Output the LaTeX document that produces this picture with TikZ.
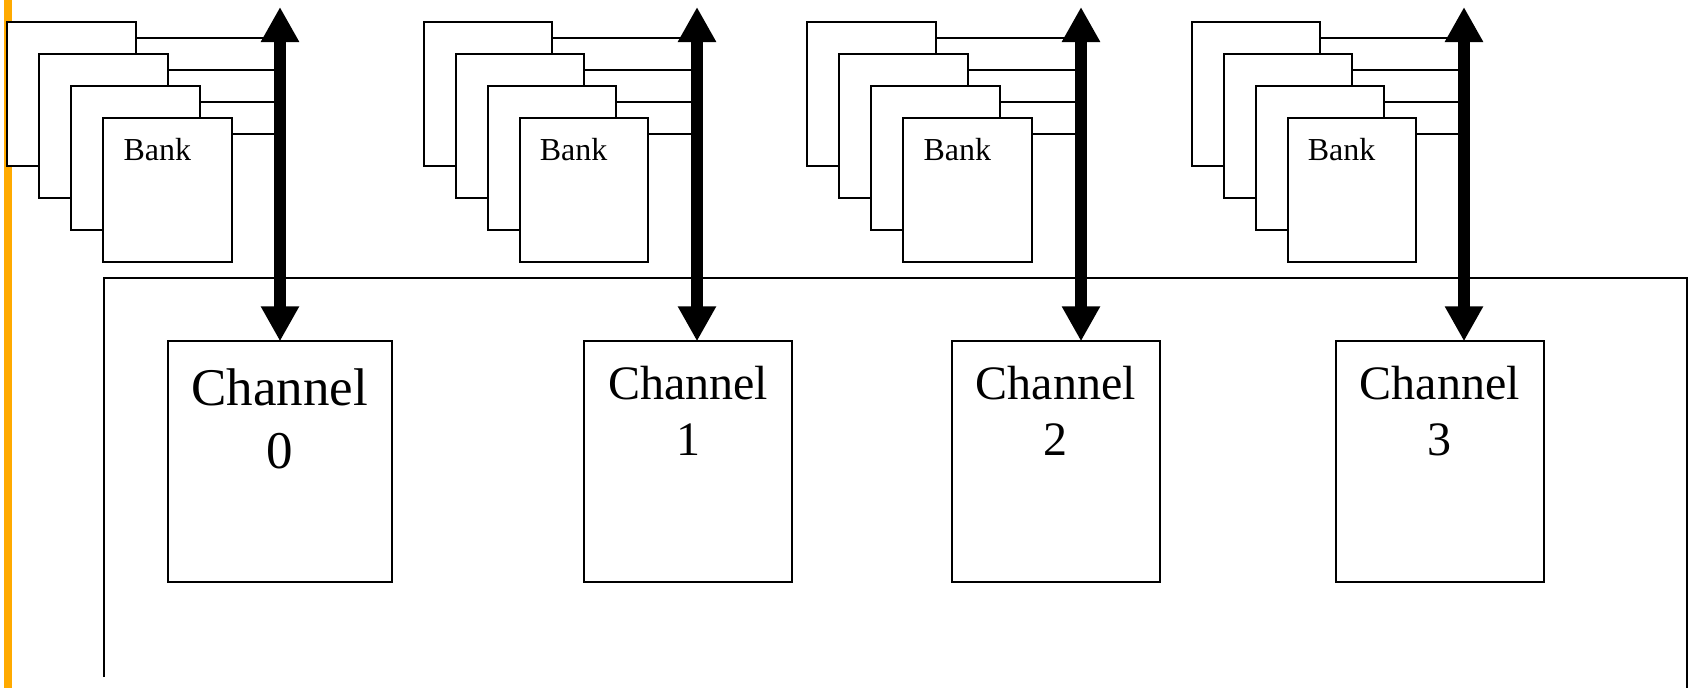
\documentclass[tikz,border=0pt]{standalone}
\usepackage{fontspec}
\setmainfont{Liberation Serif}
\usetikzlibrary{arrows.meta}
\definecolor{barorange}{RGB}{255,170,0}
\begin{document}
\begin{tikzpicture}[x=1pt,y=-1pt,
  bankbox/.style={draw, line width=1.8pt, fill=white, minimum width=128.7pt, minimum height=144pt, inner sep=0pt, outer sep=0pt, anchor=north west},
  chbox/.style={draw, line width=1.8pt, fill=white, inner sep=0pt, outer sep=0pt, anchor=north west, minimum height=240.7pt},
  wire/.style={line width=1.8pt},
  bus/.style={line width=12pt, {Triangle[length=35pt,width=36pt]}-{Triangle[length=35pt,width=36pt]}},
  banklabel/.style={font=\fontsize{32}{38}\selectfont, inner sep=0pt, anchor=base west},
  chlabel/.style={align=center, inner sep=0pt, anchor=base}]
\useasboundingbox (0,0) rectangle (1690,688);
\fill[barorange] (4,0) rectangle (12,688);
% outer frame
\draw[wire] (104,677) -- (104,278) -- (1687,278) -- (1687,688);
\foreach \g/\dx/\ax/\cx/\cw/\fs/\ld/\bl in {0/0/280/167.7/224.3/53/63/468, 1/416.3/697/584/208/48/56/455, 2/800/1081/951.7/208/48/56/455, 3/1184.3/1464/1335.7/208.3/48/56/455} {
  \coordinate (top\g) at (\ax,7);
  \foreach \k in {0,...,3} {
    \node[bankbox] (b\g-\k) at (7.3+\dx+32*\k, 22+32*\k) {};
    \draw[wire] ([shift={(0,16)}]b\g-\k.north east) coordinate (w\g-\k) -- (w\g-\k -| top\g);
  }
  \node[banklabel] (bl\g) at ([shift={(20,42)}]b\g-3.north west) {Bank};
  \node[chbox, minimum width=\cw pt] (ch\g) at (\cx,341.3) {};
  \node[chlabel, font=\fontsize{\fs}{\ld}\selectfont] (cl\g) at (ch\g.center |- 0,\bl) {Channel\\\g};
  \draw[bus] (top\g) -- (top\g |- ch\g.north);
}
\end{tikzpicture}
\end{document}
